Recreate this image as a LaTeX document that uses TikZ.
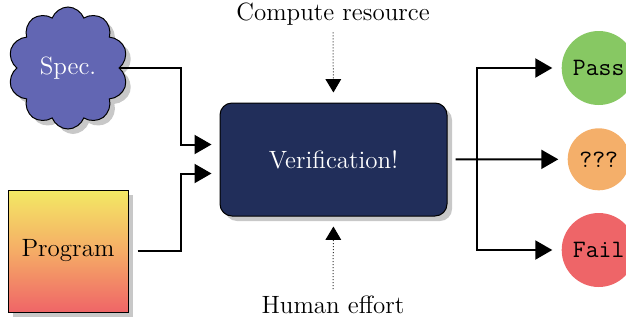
\documentclass[tikz,border=0pt]{standalone}
\usetikzlibrary{shapes.symbols,shadows,arrows.meta,calc}
\definecolor{specblue}{RGB}{98,102,179}
\definecolor{verifblue}{RGB}{33,46,90}
\definecolor{passgreen}{RGB}{135,200,99}
\definecolor{unkorange}{RGB}{244,175,106}
\definecolor{failred}{RGB}{238,101,104}
\definecolor{progtop}{RGB}{243,233,100}
\definecolor{progmid}{RGB}{245,172,102}
\definecolor{progbot}{RGB}{239,101,103}
\definecolor{shadowgray}{RGB}{200,200,200}
\begin{document}
\begin{tikzpicture}[x=0.5pt,y=-0.5pt,
  shade/.style={drop shadow={shadow xshift=2.5pt,shadow yshift=-2.5pt,fill=shadowgray,opacity=1}},
  arr/.style={line width=1pt,-{Triangle[length=8.5pt,width=9.5pt]}},
  dotarr/.style={line width=0.5pt,densely dotted,black!80,-{Triangle[length=6.7pt,width=7.8pt,sep=0pt,black]},shorten >=5pt},
  result/.style={circle,inner sep=0pt,font=\fontsize{12.5}{15}\selectfont\ttfamily},
  label/.style={font=\fontsize{12.5}{15}\selectfont}]
\useasboundingbox (0,0) rectangle (626,322);

\node[cloud,cloud puffs=10,cloud puff arc=140,aspect=1,draw=black,line width=0.5pt,fill=specblue,
  minimum width=60pt,minimum height=61pt,inner sep=0pt,text=white,font=\fontsize{12.5}{15}\selectfont,shade] (spec) at (68,68) {Spec.};

\node[rectangle,draw=black,line width=0.5pt,top color=progtop,bottom color=progbot,middle color=progmid,
  minimum width=60pt,minimum height=61pt,inner sep=0pt,font=\fontsize{12.5}{15}\selectfont,shade] (prog) at (68,251) {Program};

\node[rectangle,rounded corners=6pt,draw=black,line width=0.5pt,fill=verifblue,
  minimum width=113.5pt,minimum height=56.5pt,text=white,font=\fontsize{12.5}{15}\selectfont,shade] (verif) at (333.5,159.5) {Verification!};

\node[label] (compute) at (333,14) {Compute resource};
\node[label] (human) at (333,305) {Human effort};

\node[result,fill=passgreen,minimum size=37pt] (pass) at (598.7,68) {Pass};
\node[result,fill=unkorange,minimum size=31pt] (unk) at (598.7,159.3) {???};
\node[result,fill=failred,minimum size=37pt] (fail) at (598.7,250) {Fail};

\coordinate (jin) at (181,0);
\coordinate (jout) at (477,0);

\draw[arr,shorten >=4pt] (spec.east) -- (spec.east -| jin) |- ([yshift=7.5pt]verif.west);
\draw[arr,shorten >=4pt,shorten <=4.5pt] (prog.east) -- (prog.east -| jin) |- ([yshift=-7pt]verif.west);

\draw[arr,shorten >=4.5pt,shorten <=4pt] (verif.east) -- (unk.west);
\draw[arr,shorten >=4.5pt] (verif.east -| jout) |- (pass.west);
\draw[arr,shorten >=4.5pt] (verif.east -| jout) |- (fail.west);

\draw[dotarr] (compute.south) -- (verif.north);
\draw[dotarr] (human.north) -- (verif.south);
\end{tikzpicture}
\end{document}
